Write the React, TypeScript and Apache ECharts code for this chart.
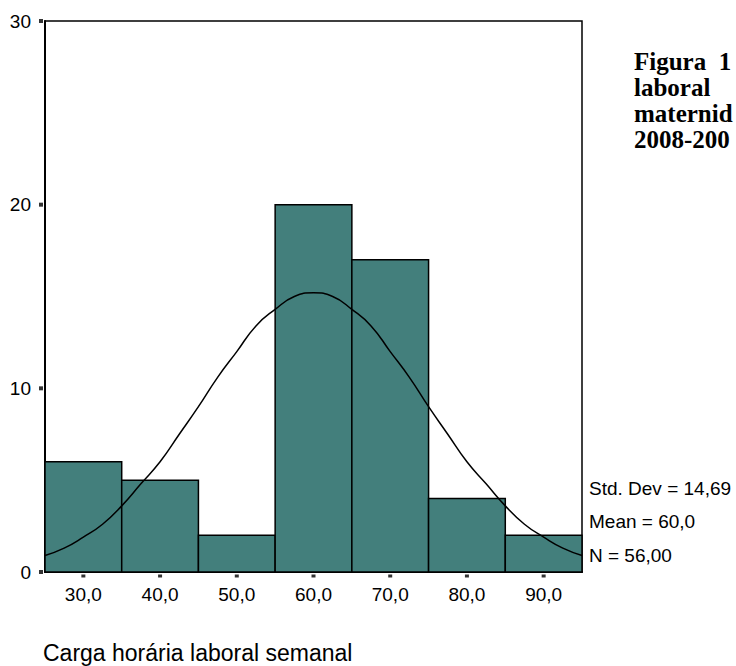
import React, { useEffect, useRef } from "react";
import * as echarts from "echarts";

// Histogram bins (lower edge, upper edge) and counts
const binStarts = [25, 35, 45, 55, 65, 75, 85];
const binEnds = [35, 45, 55, 65, 75, 85, 95];
const counts = [6, 5, 2, 20, 17, 4, 2];

// Fitted normal curve
const curveX = [25, 27.5, 30, 32.5, 35, 37.5, 40, 42.5, 45, 47.5, 50, 52.5, 55, 57.5, 60, 62.5, 65, 67.5, 70, 72.5, 75, 77.5, 80, 82.5, 85, 87.5, 90, 92.5, 95];
const curveY = [0.9, 1.3, 1.9, 2.6, 3.6, 4.8, 6.0, 7.5, 9.0, 10.6, 12.0, 13.4, 14.3, 15.0, 15.2, 15.0, 14.3, 13.4, 12.0, 10.6, 9.0, 7.5, 6.0, 4.8, 3.6, 2.6, 1.9, 1.3, 0.9];

const xTicks = [30, 40, 50, 60, 70, 80, 90];
const yTicks = [0, 10, 20, 30];
const xMin = 25;
const xMax = 95;

const statsLines = ["Std. Dev = 14,69", "Mean = 60,0", "N = 56,00"];
const xTitle = "Carga horária laboral semanal";
const figuraLines = ["Figura  1", "laboral", "maternid", "2008-200"];

export default function App() {
  const ref = useRef<HTMLDivElement>(null);
  useEffect(() => {
    document.body.style.margin = "0";
    const chart = echarts.init(ref.current!, undefined, { renderer: "svg" });
    const sans = "Arial, 'Liberation Sans', sans-serif";
    const serif = "'Times New Roman', 'Liberation Serif', serif";
    const barData = binStarts.map((s, i) => [s, binEnds[i], counts[i]]);
    const statY = [490, 523, 557];
    const figY = [62, 88, 114, 140];
    chart.setOption({
      animation: false,
      backgroundColor: "#ffffff",
      grid: {
        left: 45,
        top: 21,
        width: 537,
        height: 551,
        show: true,
        borderColor: "#000",
        borderWidth: 1.5,
        backgroundColor: "transparent",
      },
      xAxis: {
        type: "value",
        min: xMin,
        max: xMax,
        splitLine: { show: false },
        axisLine: { show: true, lineStyle: { color: "#000", width: 2 } },
        axisTick: { show: false },
        axisLabel: {
          customValues: xTicks,
          margin: 13,
          color: "#000",
          fontSize: 19,
          fontFamily: sans,
          formatter: (v: number) => v.toFixed(1).replace(".", ","),
        },
      },
      yAxis: {
        type: "value",
        min: 0,
        max: 30,
        interval: 10,
        splitLine: { show: false },
        axisLine: { show: true, lineStyle: { color: "#000", width: 2 } },
        axisTick: { show: false },
        axisLabel: {
          margin: 14,
          color: "#000",
          fontSize: 19,
          fontFamily: sans,
        },
      },
      series: [
        {
          type: "custom",
          data: barData,
          encode: { x: [0, 1], y: 2 },
          renderItem: (params: any, api: any) => {
            const p0 = api.coord([api.value(0), api.value(2)]);
            const p1 = api.coord([api.value(1), 0]);
            return {
              type: "rect",
              shape: { x: p0[0], y: p0[1], width: p1[0] - p0[0], height: p1[1] - p0[1] },
              style: { fill: "#437f7c", stroke: "#000", lineWidth: 1.5 },
            };
          },
          z: 2,
        },
        {
          type: "line",
          data: curveX.map((x, i) => [x, curveY[i]]),
          smooth: true,
          symbol: "none",
          lineStyle: { color: "#000", width: 1.5 },
          z: 3,
        },
        {
          // x-axis tick marks (small squares just below the axis)
          type: "scatter",
          data: xTicks.map((v) => [v, 0]),
          symbol: "rect",
          symbolSize: [4, 3],
          symbolOffset: [0, 4],
          itemStyle: { color: "#000" },
          clip: false,
          silent: true,
          z: 4,
        },
        {
          // y-axis tick marks (small squares just left of the axis)
          type: "scatter",
          data: yTicks.map((v) => [xMin, v]),
          symbol: "rect",
          symbolSize: [4, 4],
          symbolOffset: [-4, 0],
          itemStyle: { color: "#000" },
          clip: false,
          silent: true,
          z: 4,
        },
      ],
      graphic: [
        ...statsLines.map((t, i) => ({
          type: "text",
          left: 589,
          top: statY[i] - 11,
          style: { text: t, fill: "#000", font: `19px ${sans}` },
        })),
        {
          type: "text",
          left: 43,
          top: 641,
          style: { text: xTitle, fill: "#000", font: `23px ${sans}` },
        },
        ...figuraLines.map((t, i) => ({
          type: "text",
          left: 634,
          top: figY[i] - 13,
          style: { text: t, fill: "#000", font: `bold 25px ${serif}` },
        })),
      ],
    });
    return () => chart.dispose();
  }, []);
  return <div ref={ref} style={{ width: 736, height: 666 }} />;
}
